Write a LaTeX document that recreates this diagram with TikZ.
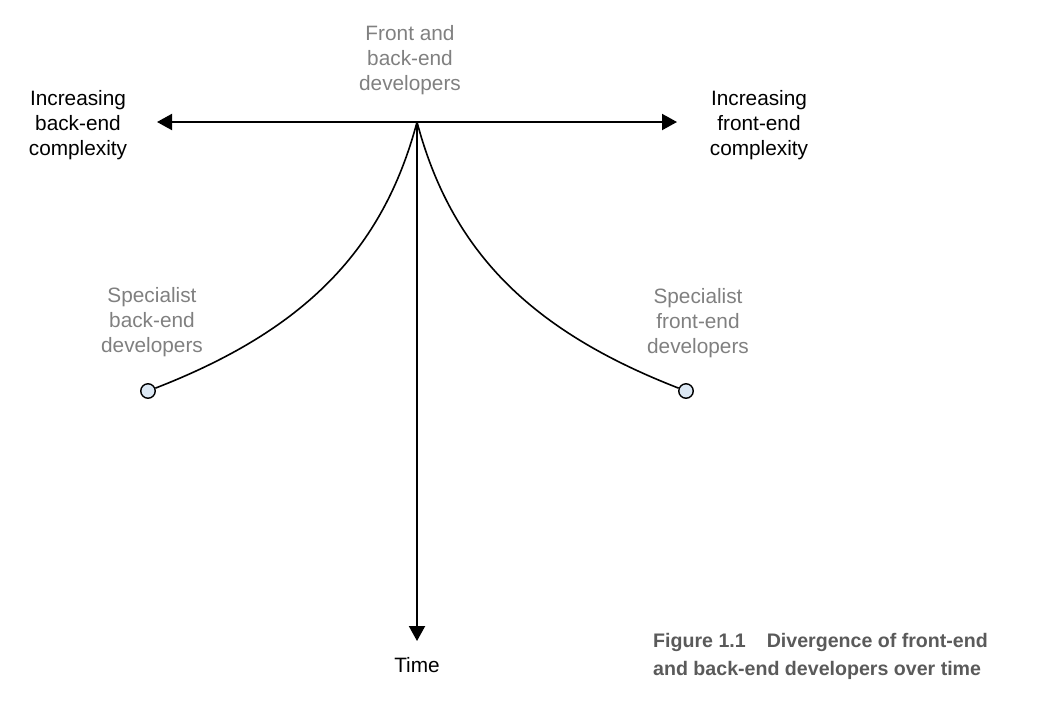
\documentclass[tikz,border=0pt]{standalone}
\usepackage{fontspec}
\setmainfont{Liberation Sans}
\usetikzlibrary{arrows.meta}
\definecolor{lblgray}{HTML}{808080}
\definecolor{capgray}{HTML}{5A5A5A}
\definecolor{dotfill}{HTML}{DCE8F4}
\begin{document}
\begin{tikzpicture}[x=1pt,y=-1pt,
  axis/.style={line width=2pt,-{Triangle[length=15pt,width=16pt]}},
  branch/.style={line width=1.6pt},
  dot/.style={circle,draw=black,line width=1.4pt,fill=dotfill,minimum size=14.5pt,inner sep=0pt},
  lbl/.style={align=center,font=\fontsize{20.8}{25.3}\selectfont},
  glbl/.style={lbl,text=lblgray},
  captext/.style={align=left,anchor=base west,text=capgray,inner sep=0pt,font=\bfseries\fontsize{19.6}{28}\selectfont}]
\useasboundingbox (0,0) rectangle (1056,710);
\coordinate (o) at (417,122);
\coordinate (l) at (157,122);
\coordinate (r) at (677,122);
\coordinate (b) at (417,641);
\node[dot] (dl) at (148,391) {};
\node[dot] (dr) at (686,391) {};
\draw[axis] (o) -- (l);
\draw[axis] (o) -- (r);
\draw[axis] (o) -- (b);
\draw[branch] (o) .. controls (383,250) and (305,330) .. (dl);
\draw[branch] (o) .. controls (451,250) and (529,330) .. (dr);
\node[glbl] (top) at (410,60) {Front and\\back-end\\developers};
\node[lbl] (lt) at (78,125) {Increasing\\back-end\\complexity};
\node[lbl] (rt) at (759,125) {Increasing\\front-end\\complexity};
\node[glbl] (ls) at (152,322) {Specialist\\back-end\\developers};
\node[glbl] (rs) at (698,323) {Specialist\\front-end\\developers};
\node[lbl] (t) at (417,665) {Time};
\node[captext] (c) at (653,675) {Figure 1.1\hspace{21pt}Divergence of front-end\\and back-end developers over time};
\end{tikzpicture}
\end{document}
